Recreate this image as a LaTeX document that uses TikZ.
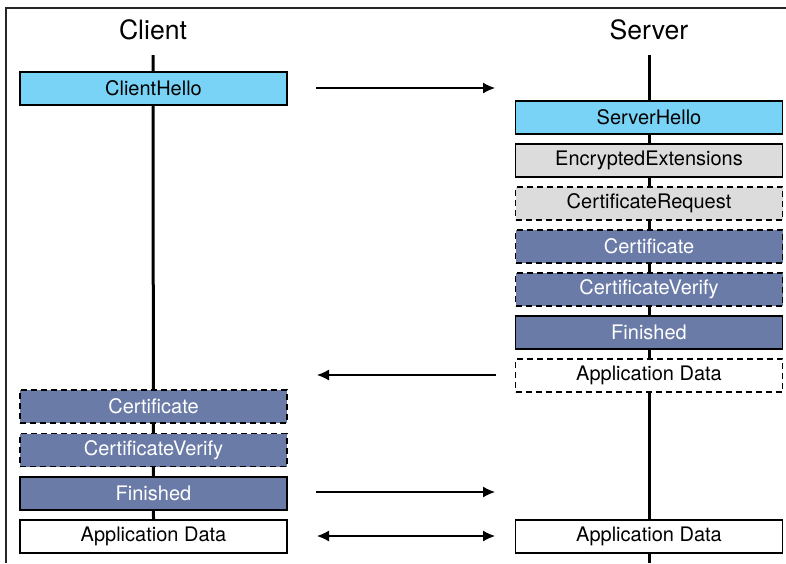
\documentclass[tikz,border=0pt]{standalone}
\usepackage{fontspec}
\setmainfont{TeX Gyre Heros}
\usepackage{xcolor}
\usepackage{tikz}
\usetikzlibrary{arrows.meta,backgrounds}
\definecolor{hellocol}{HTML}{79D3F7}
\definecolor{authcol}{HTML}{6B7BA7}
\definecolor{extcol}{HTML}{DCDCDC}
\tikzset{msg node/.style={rectangle,draw,line width=0.7pt,minimum width=133.5pt,minimum height=16.5pt,inner sep=0pt,font=\fontsize{10}{12}\selectfont},
            hello/.style={msg node,fill=hellocol},
            ext/.style={msg node,fill=extcol},
            auth/.style={msg node,fill=authcol,text=white},
            plain/.style={msg node,fill=white},
            opt/.style={dash pattern=on 3pt off 2pt},
            party/.style={font=\fontsize{13.3}{16}\selectfont},
            lifeline/.style={line width=1.5pt},
            flow/.style={line width=0.65pt,-{Latex[length=6pt,width=5.5pt]}},
            }

\begin{document}
\begin{tikzpicture}[x=0.5pt,y=-0.5pt]
					\useasboundingbox (0,0) rectangle (786,563);
					\draw[line width=0.8pt,black!85] (6,563) -- (6,8) -- (786,8);
					
					\node[party] (client) at (153,30) {Client};
					\node[party] (server) at (649,30) {Server};
					
					% client side
					\node[hello] (cHello) at (153.5,88.5) {ClientHello};
					\node[auth,opt] (cCert) at (153.5,406.5) {Certificate};
					\node[auth,opt] (cVerify) at (153.5,450) {CertificateVerify};
					\node[auth] (cFin) at (153.5,493.5) {Finished};
					\node[plain] (cData) at (153.5,536.5) {Application Data};
					
					% server side
					\node[hello] (sHello) at (649,117.5) {ServerHello};
					\node[ext] (sExt) at (649,160.5) {EncryptedExtensions};
					\node[ext,opt] (sReq) at (649,203.5) {CertificateRequest};
					\node[auth,opt] (sCert) at (649,246.5) {Certificate};
					\node[auth,opt] (sVerify) at (649,289.5) {CertificateVerify};
					\node[auth] (sFin) at (649,332.5) {Finished};
					\node[plain,opt] (sEarly) at (649,375.5) {Application Data};
					\node[plain] (sData) at (649,536.5) {Application Data};
					
					\coordinate (cTop) at (153,55);
					\coordinate (sTop) at (649,55);
					\coordinate (sEnd) at (649,563);
					\begin{scope}[on background layer]
						\draw[lifeline] (cTop) to (cData.north);
						\draw[lifeline] (sTop) to (sEnd);
					\end{scope}
					
					\coordinate (c1) at (316,88);
					\coordinate (s1) at (495,88);
					\coordinate (s2) at (496,375);
					\coordinate (c2) at (317,375);
					\coordinate (c3) at (316,492);
					\coordinate (s3) at (495,492);
					\coordinate (c4) at (317,536);
					\coordinate (s4) at (495,536);
					
					\draw[flow] (c1) to (s1);
					\draw[flow] (s2) to (c2);
					\draw[flow] (c3) to (s3);
					\draw[flow,{Latex[length=6pt,width=5.5pt]}-{Latex[length=6pt,width=5.5pt]}] (c4) to (s4);
				\end{tikzpicture}
\end{document}
